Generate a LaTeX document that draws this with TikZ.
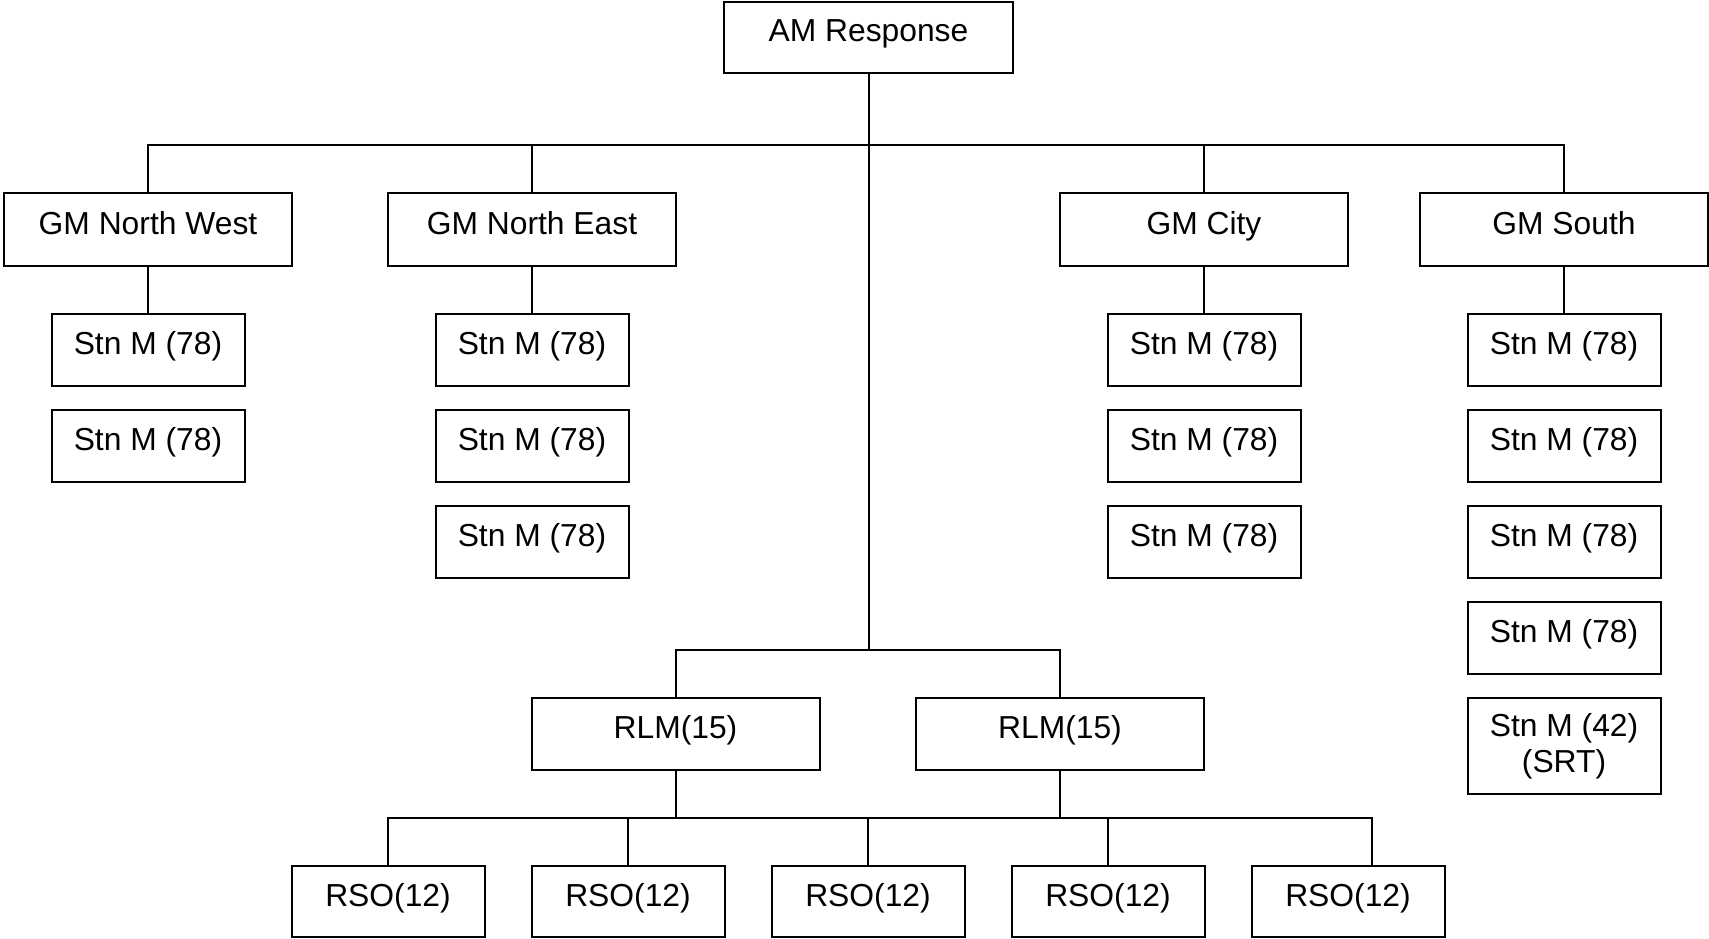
\documentclass[tikz,border=0pt]{standalone}
\usepackage{fontspec}
\setmainfont{Liberation Sans}
\begin{document}
\begin{tikzpicture}[x=1pt,y=-1pt,
  box/.style={draw=black, line width=2pt, fill=white, inner sep=0pt,
    text height=20pt, text depth=11pt, align=center,
    font=\fontsize{31.8pt}{36pt}\selectfont},
  wide/.style={box, minimum width=288pt, minimum height=72pt},
  narrow/.style={box, minimum width=193pt, minimum height=72pt},
  twoline/.style={narrow, minimum height=96pt, text height={}, text depth={}},
  link/.style={draw=black, line width=2pt}]
\useasboundingbox (0,0) rectangle (1709,939);
% top
\node[wide, minimum width=289pt, minimum height=71pt] (am) at (868.5,37.5) {AM Response};
% GM level
\node[wide] (gmnw) at (148,229.5) {GM North West};
\node[wide] (gmne) at (532,229.5) {GM North East};
\node[wide] (gmc)  at (1204,229.5) {GM City};
\node[wide] (gms)  at (1564,229.5) {GM South};
% stations
\node[narrow] (nw1) at (148,350) {Stn M (78)};
\node[narrow] (nw2) at (148,446) {Stn M (78)};
\node[narrow] (ne1) at (532,350) {Stn M (78)};
\node[narrow] (ne2) at (532,446) {Stn M (78)};
\node[narrow] (ne3) at (532,542) {Stn M (78)};
\node[narrow] (c1) at (1204,350) {Stn M (78)};
\node[narrow] (c2) at (1204,446) {Stn M (78)};
\node[narrow] (c3) at (1204,542) {Stn M (78)};
\node[narrow] (s1) at (1564,350) {Stn M (78)};
\node[narrow] (s2) at (1564,446) {Stn M (78)};
\node[narrow] (s3) at (1564,542) {Stn M (78)};
\node[narrow] (s4) at (1564,638) {Stn M (78)};
\node[twoline] (s5) at (1564,746) {Stn M (42)\\(SRT)};
% RLM
\node[wide] (rlm1) at (675.5,734) {RLM(15)};
\node[wide] (rlm2) at (1060,734) {RLM(15)};
% RSO
\node[narrow, minimum height=71pt] (rso1) at (388,901.5) {RSO(12)};
\node[narrow, minimum height=71pt] (rso2) at (628,901.5) {RSO(12)};
\node[narrow, minimum height=71pt] (rso3) at (868,901.5) {RSO(12)};
\node[narrow, minimum height=71pt] (rso4) at (1108,901.5) {RSO(12)};
\node[narrow, minimum height=71pt] (rso5) at (1348,901.5) {RSO(12)};
% bus coordinates
\coordinate (b1) at (868.5,145.3);
\coordinate (b2) at (868.5,649.5);
\coordinate (b3) at (868.5,818);
\coordinate (r5) at (1372,818);
% connectors
\path[link] (gmnw.north) |- (b1) -| (gms.north);
\path[link] (gmne.north) -- (gmne.north |- b1);
\path[link] (gmc.north) -- (gmc.north |- b1);
\path[link] (am.south) -- (b2);
\path[link] (gmnw.south) -- (nw1.north);
\path[link] (gmne.south) -- (ne1.north);
\path[link] (gmc.south) -- (c1.north);
\path[link] (gms.south) -- (s1.north);
\path[link] (rlm1.north) |- (b2) -| (rlm2.north);
\path[link] (rlm1.south) -- (rlm1.south |- b3);
\path[link] (rlm2.south) -- (rlm2.south |- b3);
\path[link] (rso1.north) |- (r5) -- (r5 |- rso5.north);
\path[link] (rso2.north) -- (rso2.north |- b3);
\path[link] (rso3.north) -- (rso3.north |- b3);
\path[link] (rso4.north) -- (rso4.north |- b3);
\end{tikzpicture}
\end{document}
